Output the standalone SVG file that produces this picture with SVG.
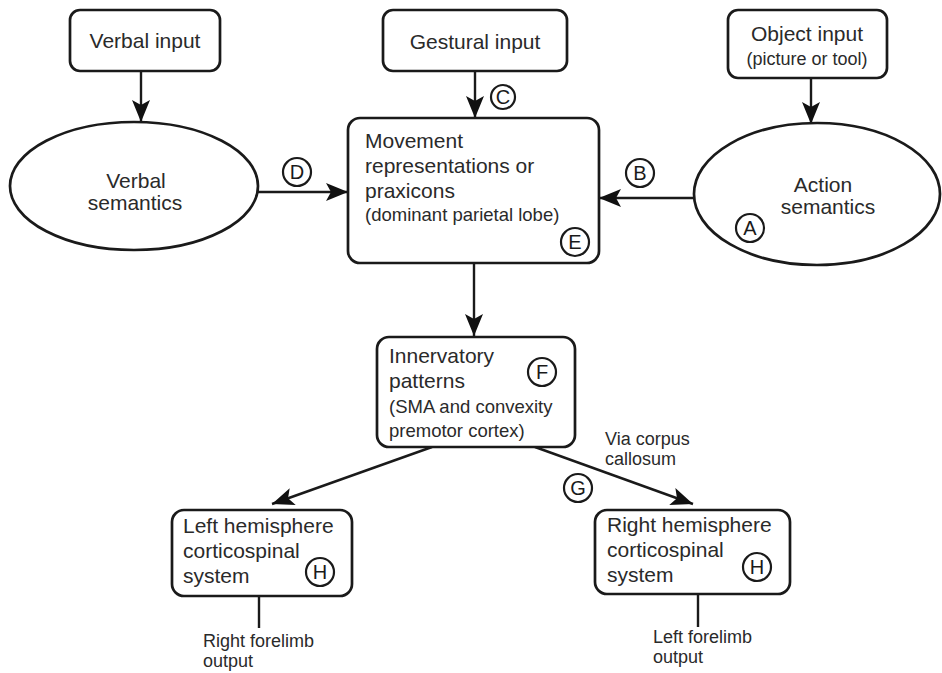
<svg xmlns="http://www.w3.org/2000/svg" width="942" height="673" viewBox="0 0 942 673">
<defs>
<marker id="ah" markerUnits="userSpaceOnUse" markerWidth="24" markerHeight="20" refX="22" refY="10" orient="auto" viewBox="0 0 24 20">
<path d="M0,1 L22,10 L0,19 L5,10 Z" fill="#111"/>
</marker>
</defs>
<style>
.box{fill:#fff;stroke:#1a1a1a;stroke-width:2.7}
.ln{fill:none;stroke:#1a1a1a;stroke-width:2.4}
.t{font-family:"Liberation Sans",Arial,sans-serif;font-size:21px;fill:#2a2a2a}
.s{font-family:"Liberation Sans",Arial,sans-serif;font-size:18.5px;fill:#2a2a2a}
.o{font-family:"Liberation Sans",Arial,sans-serif;font-size:18px;fill:#2a2a2a}
.lc{fill:#fff;stroke:#1a1a1a;stroke-width:2.2}
.lt{font-family:"Liberation Sans",Arial,sans-serif;font-size:20px;fill:#1a1a1a;text-anchor:middle}
</style>
<rect width="942" height="673" fill="#fff"/>
<g id="connectors">
<line class="ln" x1="141" y1="71" x2="141" y2="122" marker-end="url(#ah)"/>
<line class="ln" x1="475" y1="71" x2="475" y2="118" marker-end="url(#ah)"/>
<line class="ln" x1="811" y1="78" x2="811" y2="124" marker-end="url(#ah)"/>
<line class="ln" x1="258" y1="192" x2="348" y2="192" marker-end="url(#ah)"/>
<line class="ln" x1="694" y1="198" x2="599" y2="198" marker-end="url(#ah)"/>
<line class="ln" x1="474" y1="263" x2="474" y2="336" marker-end="url(#ah)"/>
<line class="ln" x1="432" y1="447" x2="272" y2="504" marker-end="url(#ah)"/>
<line class="ln" x1="535" y1="447" x2="693" y2="504" marker-end="url(#ah)"/>
<line class="ln" x1="259" y1="596" x2="259" y2="628"/>
<line class="ln" x1="698" y1="594" x2="698" y2="627"/>
</g>
<g id="verbal-input">
<rect class="box" x="70" y="10" width="150" height="61" rx="10"/>
<text class="t" x="145" y="48" text-anchor="middle">Verbal input</text>
</g>
<g id="gestural-input">
<rect class="box" x="383" y="10" width="184" height="61" rx="10"/>
<text class="t" x="475" y="49" text-anchor="middle">Gestural input</text>
</g>
<g id="object-input">
<rect class="box" x="728" y="10" width="159" height="68" rx="10"/>
<text class="t" x="807" y="41" text-anchor="middle">Object input</text>
<text class="o" x="807" y="65" text-anchor="middle">(picture or tool)</text>
</g>
<g id="verbal-semantics">
<ellipse class="box" cx="134" cy="186" rx="124" ry="64"/>
<text class="t" x="136" y="188" text-anchor="middle">Verbal</text>
<text class="t" x="135" y="210" text-anchor="middle">semantics</text>
</g>
<g id="action-semantics">
<ellipse class="box" cx="817" cy="194" rx="123" ry="71"/>
<text class="t" x="823" y="192" text-anchor="middle">Action</text>
<text class="t" x="828" y="214" text-anchor="middle">semantics</text>
<circle class="lc" cx="750" cy="228" r="14"/>
<text class="lt" x="750" y="235">A</text>
</g>
<g id="movement">
<rect class="box" x="348" y="118" width="251" height="145" rx="12"/>
<text class="t" x="365" y="148">Movement</text>
<text class="t" x="365" y="173">representations or</text>
<text class="t" x="365" y="198">praxicons</text>
<text class="s" x="365" y="221">(dominant parietal lobe)</text>
<circle class="lc" cx="575" cy="242" r="14"/>
<text class="lt" x="575" y="249">E</text>
</g>
<g id="innervatory">
<rect class="box" x="377" y="337" width="198" height="110" rx="12"/>
<text class="t" x="389" y="363">Innervatory</text>
<text class="t" x="389" y="388">patterns</text>
<text class="s" x="389" y="413">(SMA and convexity</text>
<text class="s" x="389" y="437">premotor cortex)</text>
<circle class="lc" cx="542" cy="372" r="14"/>
<text class="lt" x="542" y="379">F</text>
</g>
<g id="left-hemisphere">
<rect class="box" x="172" y="510" width="180" height="86" rx="12"/>
<text class="t" x="183" y="533">Left hemisphere</text>
<text class="t" x="183" y="558">corticospinal</text>
<text class="t" x="183" y="583">system</text>
<circle class="lc" cx="320" cy="572" r="14"/>
<text class="lt" x="320" y="579">H</text>
</g>
<g id="right-hemisphere">
<rect class="box" x="595" y="510" width="195" height="84" rx="12"/>
<text class="t" x="607" y="532">Right hemisphere</text>
<text class="t" x="607" y="557">corticospinal</text>
<text class="t" x="607" y="582">system</text>
<circle class="lc" cx="757" cy="567" r="14"/>
<text class="lt" x="757" y="574">H</text>
</g>
<g id="labels">
<circle class="lc" cx="297" cy="172" r="14"/>
<text class="lt" x="297" y="179">D</text>
<circle class="lc" cx="503" cy="97" r="12"/>
<text class="lt" x="503" y="104">C</text>
<circle class="lc" cx="640" cy="173" r="14"/>
<text class="lt" x="640" y="180">B</text>
<circle class="lc" cx="578" cy="488" r="14"/>
<text class="lt" x="578" y="495">G</text>
<text class="o" x="605" y="445">Via corpus</text>
<text class="o" x="605" y="465">callosum</text>
<text class="o" x="203" y="647">Right forelimb</text>
<text class="o" x="203" y="667">output</text>
<text class="o" x="653" y="643">Left forelimb</text>
<text class="o" x="653" y="663">output</text>
</g>
</svg>
